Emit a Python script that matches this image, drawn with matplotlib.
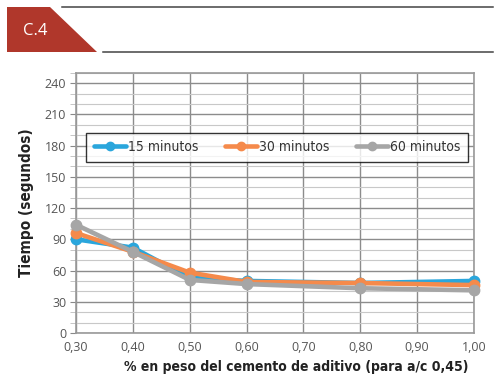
import numpy as np
import matplotlib.pyplot as plt
from matplotlib.patches import Polygon
from matplotlib.lines import Line2D
from matplotlib.ticker import MultipleLocator, FuncFormatter

# datos
dosis = [0.30, 0.40, 0.50, 0.60, 0.80, 1.00]
t15 = [90, 82, 53, 50, 48, 50]
t30 = [96, 78, 58, 49, 48, 46]
t60 = [104, 78, 51, 47, 43, 41]
series = ["15 minutos", "30 minutos", "60 minutos"]
colores = ["#2aa6dc", "#f58a4b", "#a6a6a6"]
x_ticks = [0.30, 0.40, 0.50, 0.60, 0.70, 0.80, 0.90, 1.00]
y_ticks = [0, 30, 60, 90, 120, 150, 180, 210, 240]

plt.rcParams['font.family'] = ["Open Sans", "DejaVu Sans"]

fig = plt.figure(figsize=(4.98, 3.84), dpi=100)

# cabecera C.4
head = fig.add_axes([0, 0, 1, 1])
head.set_xlim(0, 498)
head.set_ylim(384, 0)
head.axis('off')
head.add_patch(Polygon([[7, 7], [50, 7], [97, 52], [7, 52]], closed=True,
                       facecolor="#b0372b", edgecolor="none"))
head.text(23, 31, "C.4", color="white", fontsize=12, va="center", ha="left")
head.add_line(Line2D([62, 493], [7, 7], color="#444444", lw=1.1))
head.add_line(Line2D([103, 493], [52, 52], color="#444444", lw=1.1))

ax = fig.add_axes([76 / 498, 1 - 333 / 384, 398 / 498, 260.3 / 384])
ax.set_xlim(0.30, 1.00)
ax.set_ylim(0, 250)

ax.set_xticks(x_ticks)
ax.set_yticks(y_ticks)
ax.yaxis.set_minor_locator(MultipleLocator(10))
ax.xaxis.set_major_formatter(FuncFormatter(lambda v, p: f"{v:.2f}".replace(".", ",")))
ax.tick_params(axis='y', which='major', direction='out', length=4, color="#888888",
               labelsize=9, labelcolor="#555555", pad=3)
ax.tick_params(axis='y', which='minor', direction='out', length=4, color="#bbbbbb")
ax.tick_params(axis='x', which='major', length=0, labelsize=9, labelcolor="#555555", pad=6)

ax.grid(True, which='major', color="#8c8c8c", lw=1.0)
ax.grid(True, which='minor', axis='y', color="#c8c8c8", lw=0.8)
ax.set_axisbelow(True)
for s in ax.spines.values():
    s.set_color("#999999")
    s.set_linewidth(1.2)

for ys, lab, c in zip([t15, t30, t60], series, colores):
    ax.plot(dosis, ys, color=c, lw=3.3, marker='o', markersize=7.5, label=lab,
            solid_capstyle='round', clip_on=False, zorder=3)

leg = ax.legend(loc='center', bbox_to_anchor=(0.505, 0.714), ncol=3, frameon=True,
                fancybox=False, edgecolor="black", handlelength=2.3, columnspacing=1.9,
                prop={'family': ["DejaVu Sans"], 'stretch': 'condensed', 'size': 10},
                borderpad=0.55, handletextpad=0.15, markerscale=0.8)
leg.get_frame().set_linewidth(1.0)
for t in leg.get_texts():
    t.set_color("#333333")

ax.set_xlabel("% en peso del cemento de aditivo (para a/c 0,45)", family=["DejaVu Sans"],
              fontstretch='condensed', fontweight='bold', fontsize=10, color="#222222")
ax.xaxis.set_label_coords(0.553, -0.105)
ax.set_ylabel("Tiempo (segundos)", family=["DejaVu Sans"], fontstretch='condensed',
              fontweight='bold', fontsize=11, labelpad=8, color="#222222")

fig.savefig("out.png", dpi=100)
